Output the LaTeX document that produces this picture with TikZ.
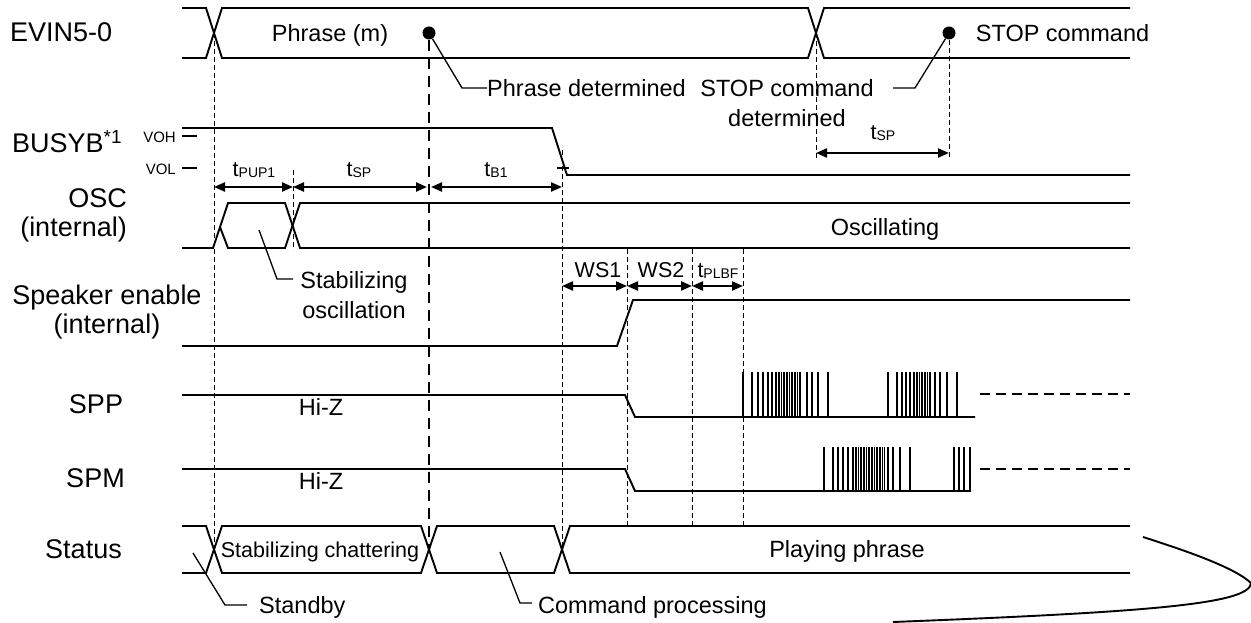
\documentclass[tikz,border=0pt]{standalone}
\usepackage{fontspec}
\setmainfont{Liberation Sans}
\usetikzlibrary{positioning}
\usetikzlibrary{arrows.meta}
\tikzset{>={Triangle[length=11pt,width=9pt]}}
\tikzset{sig/.style={line width=1.9pt}}
\tikzset{pl/.style={line width=1.3pt}}
\tikzset{pld/.style={line width=1pt}}
\tikzset{gd/.style={line width=1pt, dash pattern=on 5pt off 3pt}}
\tikzset{gdb/.style={line width=2.8pt, dash pattern=on 11pt off 7pt}}
\tikzset{hz/.style={line width=1.9pt, dash pattern=on 10pt off 6pt}}
\tikzset{dim/.style={<->, line width=2.2pt}}
\tikzset{ld/.style={line width=1.3pt}}
\tikzset{dot/.style={circle, fill, inner sep=0pt, minimum size=13pt}}
\tikzset{nm/.style={inner sep=0pt, font=\fontsize{27}{29}\selectfont}}
\tikzset{tx/.style={inner sep=0pt, font=\fontsize{23.5}{30}\selectfont}}
\tikzset{sm/.style={inner sep=0pt, font=\fontsize{21.5}{24}\selectfont}}
\tikzset{lv/.style={inner sep=0pt, font=\fontsize{15}{15}\selectfont}}
\newcommand{\tsub}[1]{t\raisebox{-1pt}{\fontsize{14}{14}\selectfont #1}}

\begin{document}
\begin{tikzpicture}[x=1pt, y=-1pt]
    \useasboundingbox (0,0) rectangle (1251,623);
    \foreach \n/\x in {a/214, b/293, c/429, d/562, e/627, f/692, g/743, h/816, i/949}
        \coordinate (\n) at (\x,0);

    \node[nm, anchor=base west] (evin) at (10,42) {EVIN5-0};
    \node[nm, anchor=base west] (busy) at (12,153) {BUSYB\textsuperscript{*1}};
    \node[nm, anchor=east, align=right] (osc) at (127,215.7) {OSC\\(internal)};
    \node[nm, align=center] (spken) at (107,311.7) {Speaker enable\\(internal)};
    \node[nm, anchor=base] (spp) at (96,413) {SPP};
    \node[nm, anchor=base] (spm) at (95.5,487) {SPM};
    \node[nm, anchor=base] (stat) at (83.5,558) {Status};
    \node[lv, anchor=base east] (voh) at (176,143) {VOH};
    \node[lv, anchor=base east] (vol) at (176,175) {VOL};
    \draw[ld] (182,136) -- (197,136);
    \draw[ld] (182,168) -- (197,168);

    \draw[sig] (182,8) -- (206,8) -- (222,58) -- (808,58) -- (824,8) -- (1130,8);
    \draw[sig] (182,58) -- (206,58) -- (222,8) -- (808,8) -- (824,58) -- (1130,58);
    \draw[sig] (182,128) -- (552,128) -- (567,175) -- (1130,175);
    \draw[ld] (557,168) -- (569,168);
    \draw[sig] (182,248) -- (213,248) -- (228,203) -- (285,203) -- (300,248) -- (1130,248);
    \draw[sig] (220,227) -- (228,248) -- (285,248) -- (300,203) -- (1130,203);
    \draw[sig] (182,346) -- (617,346) -- (633,300) -- (1130,300);
    \draw[sig] (182,395) -- (625,395) -- (635,417) -- (975,417);
    \draw[sig] (182,469) -- (625,469) -- (635,491) -- (971,491);
    \draw[hz] (980,394) -- (1130,394);
    \draw[hz] (980,469) -- (1130,469);
    \draw[sig] (182,526) -- (206,526) -- (222,573) -- (421,573) -- (437,526) -- (554,526) -- (570,573) -- (1130,573);
    \draw[sig] (182,573) -- (206,573) -- (222,526) -- (421,526) -- (437,573) -- (554,573) -- (570,526) -- (1130,526);

    \foreach \x in {743,752,758,763,768,772,807,812,818,828,888,897,902,906,910,935,940,947,957}
        \draw[pl] (\x,417) -- (\x,372);
    \foreach \x in {775,776.6,...,802,913,914.6,...,931}
        \draw[pld] (\x,417) -- (\x,372);
    \foreach \x in {824,833,838,843,848,888,893,900,910,954,959,964,970}
        \draw[pl] (\x,491) -- (\x,447);
    \foreach \x in {852,853.6,...,885}
        \draw[pld] (\x,491) -- (\x,447);

    \node[dot] (pdot) at (c |- 0,33) {};
    \node[dot] (sdot) at (i |- 0,33) {};
    \draw[gd] (a |- 0,33) -- (a |- 0,549);
    \draw[gd] (b |- 0,170) -- (b |- 0,250);
    \draw[gdb] (pdot) -- (c |- 0,549);
    \draw[gd] (d |- 0,150) -- (d |- 0,549);
    \foreach \n in {e,f,g}
        \draw[gd] (\n |- 0,249) -- (\n |- 0,526);
    \draw[gd] (h |- 0,33) -- (h |- 0,158);
    \draw[gd] (sdot) -- (i |- 0,158);

    \draw[dim] (a |- 0,187) -- (b |- 0,187);
    \draw[dim, shorten >=2pt] (b |- 0,187) -- (c |- 0,187);
    \draw[dim, shorten <=2pt] (c |- 0,187) -- (d |- 0,187);
    \draw[dim] (d |- 0,286) -- (e |- 0,286);
    \draw[dim] (e |- 0,286) -- (f |- 0,286);
    \draw[dim] (f |- 0,286) -- (g |- 0,286);
    \draw[dim] (h |- 0,153) -- (i |- 0,153);
    \node[sm, anchor=base] (tpup) at (254,177) {\tsub{PUP1}};
    \node[sm, anchor=base] (tsp) at (359,177) {\tsub{SP}};
    \node[sm, anchor=base] (tb) at (496,177) {\tsub{B1}};
    \node[sm, anchor=base] (ws1) at (598,277) {WS1};
    \node[sm, anchor=base] (ws2) at (661,277) {WS2};
    \node[sm, anchor=base] (tplbf) at (718,277) {\tsub{PLBF}};
    \node[sm, anchor=base] (tsp2) at (883,140) {\tsub{SP}};

    \node[tx, anchor=base] (phr) at (330,42) {Phrase (m)};
    \node[tx, right=20pt of sdot] (stopcmd) {STOP command};
    \coordinate (pknee) at (462,88);
    \node[tx, right=25pt of pknee] (pdet) {Phrase determined};
    \draw[ld] (pdot) -- (pknee) -- (pdet);
    \node[tx, align=center] (stopdet) at (787,103.4) {STOP command\\determined};
    \coordinate (sknee) at (915,88);
    \draw[ld] (sdot) -- (sknee) -- ++(-22,0);
    \node[tx, align=center] (stabosc) at (354,294.6) {Stabilizing\\oscillation};
    \coordinate (oknee) at (277,279);
    \draw[ld] (259,230) -- (oknee) -- ++(16,0);
    \node[tx, anchor=base] (oscl) at (885,235) {Oscillating};
    \node[tx, anchor=base] (hiz1) at (321,415) {Hi-Z};
    \node[tx, anchor=base] (hiz2) at (321,489) {Hi-Z};
    \node[sm, anchor=base] (chat) at (320,557) {Stabilizing chattering};
    \node[tx, anchor=base] (play) at (847,557) {Playing phrase};
    \node[tx, anchor=base west] (stby) at (259,613) {Standby};
    \coordinate (sbknee) at (225,605);
    \draw[ld] (193,553) -- (sbknee) -- ++(22,0);
    \node[tx, anchor=base west] (cproc) at (538,613) {Command processing};
    \coordinate (cpknee) at (520,603);
    \draw[ld] (500,552) -- (cpknee) -- ++(12,0);

    \draw[sig] (1143,537) .. controls (1190,552) and (1235,568) .. (1251,583)
        .. controls (1250,604) and (1150,612) .. (893,622);
\end{tikzpicture}
\end{document}
